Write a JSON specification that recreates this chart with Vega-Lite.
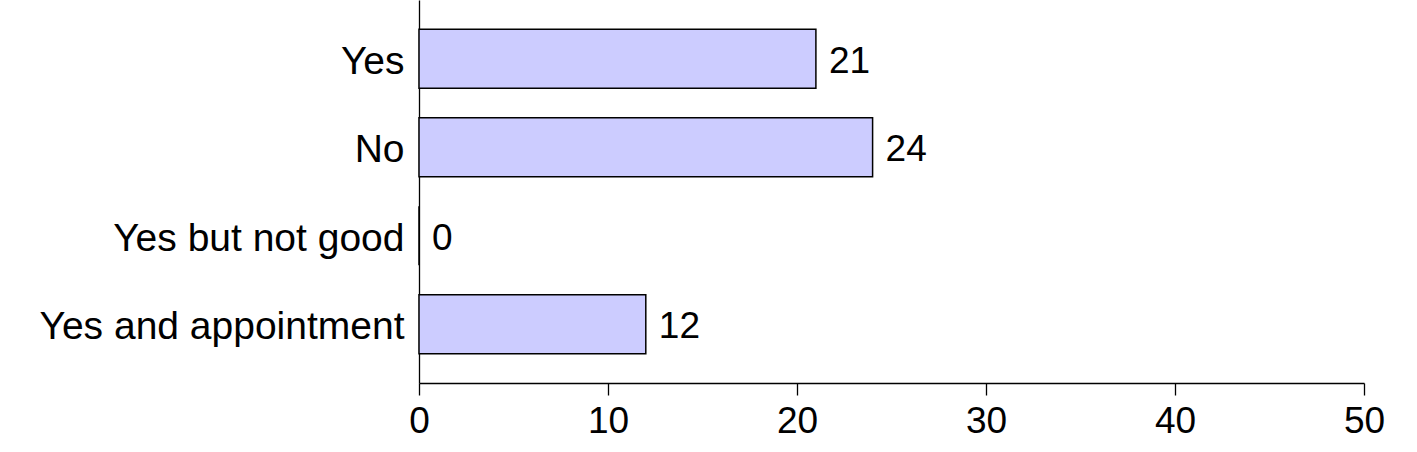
{
  "$schema": "https://vega.github.io/schema/vega-lite/v6.json",
  "width": 945,
  "height": 383,
  "autosize": {"type": "none"},
  "padding": {"left": 419, "top": 0, "right": 53, "bottom": 69},
  "background": "white",
  "config": {"view": {"stroke": null}, "font": "Liberation Sans"},
  "data": {"values": [
    {"answer": "Yes", "count": 21},
    {"answer": "No", "count": 24},
    {"answer": "Yes but not good", "count": 0},
    {"answer": "Yes and appointment", "count": 12}
  ]},
  "encoding": {
    "y": {"field": "answer", "type": "nominal", "sort": null,
      "scale": {"paddingInner": 0.333, "paddingOuter": 0.33},
      "axis": {"title": null, "ticks": false, "domainColor": "black", "domainWidth": 1.3,
        "labelFontSize": 39, "labelColor": "black", "labelPadding": 15, "labelLimit": 0, "labelOffset": 3, "labelFont": "Liberation Sans"}},
    "x": {"field": "count", "type": "quantitative",
      "scale": {"domain": [0, 50], "nice": false},
      "axis": {"title": null, "values": [0, 10, 20, 30, 40, 50], "grid": false,
        "tickSize": 12, "tickColor": "black", "tickWidth": 1.3, "domainColor": "black", "domainWidth": 1.3,
        "labelFontSize": 37, "labelColor": "black", "labelPadding": 8, "labelFont": "Liberation Sans", "labelFlush": false}}
  },
  "layer": [
    {"mark": {"type": "bar", "fill": "#CCCCFF", "stroke": "black", "strokeWidth": 1.5}},
    {"mark": {"type": "text", "align": "left", "dx": 13, "dy": 3, "fontSize": 37, "color": "black", "font": "Liberation Sans"},
      "encoding": {"text": {"field": "count", "type": "quantitative"}}}
  ]
}
